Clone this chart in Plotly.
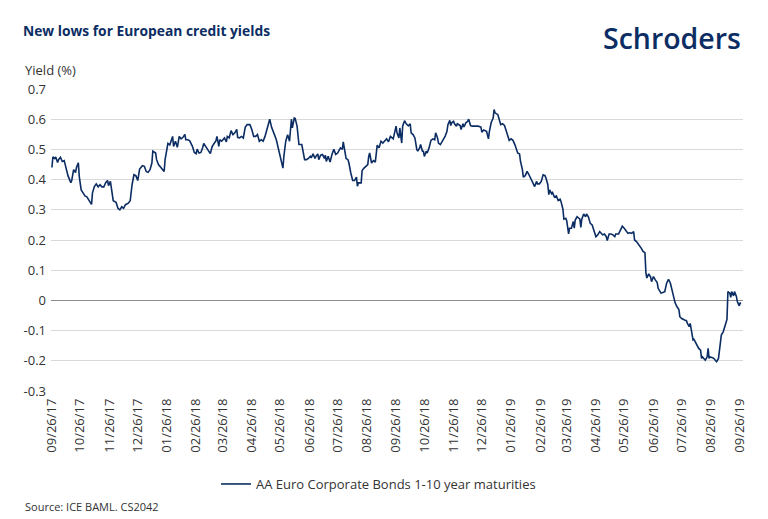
import plotly.graph_objects as go

dates = [
"2017-09-26","2017-09-27","2017-09-29","2017-09-30","2017-10-02","2017-10-03","2017-10-05","2017-10-07","2017-10-09","2017-10-11",
"2017-10-13","2017-10-16","2017-10-17","2017-10-19","2017-10-21","2017-10-22","2017-10-24","2017-10-25","2017-10-27","2017-10-29",
"2017-10-31","2017-11-02","2017-11-05","2017-11-07","2017-11-08","2017-11-10","2017-11-12","2017-11-14","2017-11-16","2017-11-18",
"2017-11-20","2017-11-22","2017-11-24","2017-11-25","2017-11-27","2017-11-28","2017-11-30","2017-12-03","2017-12-05","2017-12-07",
"2017-12-09","2017-12-11","2017-12-13","2017-12-16","2017-12-18","2017-12-20","2017-12-22","2017-12-24","2017-12-26","2017-12-28",
"2017-12-31","2018-01-02","2018-01-04","2018-01-06","2018-01-08","2018-01-10","2018-01-11","2018-01-14","2018-01-15","2018-01-17",
"2018-01-19","2018-01-21","2018-01-23","2018-01-24","2018-01-26","2018-01-27","2018-01-29","2018-01-31","2018-02-01","2018-02-02",
"2018-02-04","2018-02-06","2018-02-08","2018-02-10","2018-02-12","2018-02-14","2018-02-15","2018-02-17","2018-02-19","2018-02-22",
"2018-02-24","2018-02-26","2018-02-27","2018-03-01","2018-03-03","2018-03-05","2018-03-06","2018-03-08","2018-03-11","2018-03-13",
"2018-03-15","2018-03-17","2018-03-19","2018-03-20","2018-03-22","2018-03-23","2018-03-25","2018-03-28","2018-03-30","2018-03-31",
"2018-04-02","2018-04-04","2018-04-06","2018-04-08","2018-04-10","2018-04-11","2018-04-13","2018-04-15","2018-04-17","2018-04-19",
"2018-04-21","2018-04-24","2018-04-26","2018-04-28","2018-04-30","2018-05-02","2018-05-04","2018-05-06","2018-05-08","2018-05-10",
"2018-05-12","2018-05-14","2018-05-15","2018-05-17","2018-05-19","2018-05-20","2018-05-22","2018-05-25","2018-05-27","2018-05-29",
"2018-05-30","2018-06-01","2018-06-03","2018-06-05","2018-06-07","2018-06-08","2018-06-10","2018-06-11","2018-06-13","2018-06-14",
"2018-06-15","2018-06-18","2018-06-19","2018-06-21","2018-06-23","2018-06-25","2018-06-27","2018-06-28","2018-06-30","2018-07-02",
"2018-07-03","2018-07-05","2018-07-06","2018-07-08","2018-07-10","2018-07-12","2018-07-13","2018-07-14","2018-07-16","2018-07-18",
"2018-07-20","2018-07-22","2018-07-24","2018-07-26","2018-07-29","2018-07-31","2018-08-01","2018-08-03","2018-08-04","2018-08-06",
"2018-08-07","2018-08-09","2018-08-11","2018-08-13","2018-08-15","2018-08-16","2018-08-17","2018-08-20","2018-08-21","2018-08-23",
"2018-08-25","2018-08-27","2018-08-28","2018-08-29","2018-08-31","2018-09-02","2018-09-04","2018-09-06","2018-09-08","2018-09-10",
"2018-09-12","2018-09-14","2018-09-16","2018-09-18","2018-09-20","2018-09-23","2018-09-25","2018-09-26","2018-09-27","2018-09-29",
"2018-09-30","2018-10-02","2018-10-03","2018-10-05","2018-10-07","2018-10-09","2018-10-11","2018-10-12","2018-10-14","2018-10-16",
"2018-10-18","2018-10-19","2018-10-21","2018-10-22","2018-10-24","2018-10-25","2018-10-26","2018-10-28","2018-10-29","2018-10-31",
"2018-11-02","2018-11-04","2018-11-06","2018-11-07","2018-11-09","2018-11-10","2018-11-12","2018-11-15","2018-11-17","2018-11-19",
"2018-11-20","2018-11-22","2018-11-23","2018-11-24","2018-11-26","2018-11-27","2018-11-29","2018-11-30","2018-12-02","2018-12-03",
"2018-12-04","2018-12-06","2018-12-07","2018-12-09","2018-12-11","2018-12-12","2018-12-14","2018-12-16","2018-12-19","2018-12-22",
"2018-12-25","2018-12-26","2018-12-28","2018-12-31","2019-01-02","2019-01-03","2019-01-05","2019-01-07","2019-01-08","2019-01-09",
"2019-01-12","2019-01-13","2019-01-15","2019-01-17","2019-01-19","2019-01-21","2019-01-24","2019-01-26","2019-01-28","2019-01-30",
"2019-02-01","2019-02-02","2019-02-04","2019-02-05","2019-02-07","2019-02-08","2019-02-10","2019-02-12","2019-02-14","2019-02-16",
"2019-02-18","2019-02-20","2019-02-22","2019-02-23","2019-02-25","2019-02-27","2019-03-01","2019-03-03","2019-03-04","2019-03-06",
"2019-03-07","2019-03-08","2019-03-10","2019-03-11","2019-03-13","2019-03-15","2019-03-17","2019-03-19","2019-03-20","2019-03-22",
"2019-03-23","2019-03-25","2019-03-26","2019-03-28","2019-03-29","2019-03-31","2019-04-02","2019-04-03","2019-04-04","2019-04-06",
"2019-04-09","2019-04-10","2019-04-11","2019-04-13","2019-04-15","2019-04-16","2019-04-18","2019-04-20","2019-04-22","2019-04-24",
"2019-04-26","2019-04-28","2019-04-30","2019-05-03","2019-05-05","2019-05-07","2019-05-08","2019-05-10","2019-05-12","2019-05-14",
"2019-05-16","2019-05-17","2019-05-20","2019-05-22","2019-05-24","2019-05-26","2019-05-28","2019-05-30","2019-06-01","2019-06-03",
"2019-06-05","2019-06-06","2019-06-08","2019-06-11","2019-06-13","2019-06-15","2019-06-17","2019-06-18","2019-06-19","2019-06-21",
"2019-06-23","2019-06-24","2019-06-26","2019-06-28","2019-06-30","2019-07-01","2019-07-04","2019-07-06","2019-07-08","2019-07-10",
"2019-07-12","2019-07-14","2019-07-16","2019-07-19","2019-07-21","2019-07-23","2019-07-24","2019-07-26","2019-07-29","2019-07-31",
"2019-08-01","2019-08-03","2019-08-04","2019-08-05","2019-08-07","2019-08-08","2019-08-10","2019-08-11","2019-08-13","2019-08-15",
"2019-08-16","2019-08-17","2019-08-19","2019-08-20","2019-08-22","2019-08-23","2019-08-24","2019-08-25","2019-08-27","2019-08-29",
"2019-08-31","2019-09-01","2019-09-03","2019-09-05","2019-09-06","2019-09-08","2019-09-10","2019-09-12","2019-09-13","2019-09-15",
"2019-09-16","2019-09-17","2019-09-19","2019-09-20","2019-09-22","2019-09-23","2019-09-25","2019-09-26","2019-09-27",
]

yields = [
0.440,0.475,0.470,0.475,0.457,0.466,0.474,0.460,0.463,0.440,
0.413,0.390,0.397,0.433,0.423,0.440,0.456,0.410,0.366,0.356,
0.346,0.343,0.330,0.318,0.356,0.377,0.386,0.376,0.383,0.376,
0.376,0.390,0.397,0.380,0.394,0.366,0.330,0.325,0.305,0.300,
0.310,0.305,0.317,0.322,0.330,0.383,0.416,0.413,0.397,0.435,
0.446,0.444,0.427,0.424,0.433,0.455,0.494,0.488,0.466,0.450,
0.442,0.433,0.427,0.466,0.505,0.520,0.515,0.532,0.543,0.510,
0.527,0.507,0.543,0.535,0.540,0.550,0.532,0.532,0.529,0.510,
0.490,0.486,0.501,0.488,0.490,0.507,0.520,0.510,0.494,0.486,
0.510,0.520,0.529,0.543,0.510,0.532,0.527,0.538,0.525,0.543,
0.538,0.562,0.549,0.555,0.566,0.540,0.538,0.543,0.538,0.573,
0.582,0.582,0.566,0.543,0.543,0.549,0.527,0.532,0.527,0.543,
0.566,0.588,0.600,0.573,0.560,0.549,0.532,0.494,0.460,0.438,
0.477,0.527,0.549,0.527,0.600,0.571,0.604,0.602,0.577,0.538,
0.516,0.516,0.500,0.466,0.466,0.470,0.477,0.472,0.485,0.470,
0.477,0.485,0.466,0.481,0.483,0.470,0.481,0.460,0.477,0.458,
0.483,0.500,0.483,0.488,0.505,0.500,0.525,0.494,0.470,0.466,
0.455,0.422,0.397,0.397,0.408,0.378,0.389,0.389,0.430,0.438,
0.444,0.450,0.477,0.488,0.455,0.463,0.458,0.514,0.505,0.527,
0.521,0.529,0.535,0.525,0.543,0.535,0.566,0.577,0.555,0.538,
0.571,0.521,0.577,0.595,0.584,0.578,0.585,0.555,0.549,0.538,
0.500,0.494,0.505,0.516,0.494,0.494,0.477,0.494,0.488,0.505,
0.530,0.535,0.532,0.555,0.538,0.521,0.516,0.530,0.543,0.560,
0.582,0.596,0.579,0.588,0.593,0.585,0.577,0.585,0.582,0.579,
0.566,0.585,0.574,0.588,0.593,0.600,0.579,0.577,0.577,0.577,
0.574,0.557,0.564,0.560,0.535,0.560,0.590,0.604,0.632,0.621,
0.615,0.604,0.582,0.585,0.579,0.560,0.530,0.535,0.530,0.516,
0.494,0.488,0.485,0.460,0.433,0.408,0.413,0.427,0.416,0.402,
0.389,0.377,0.394,0.386,0.386,0.394,0.416,0.413,0.405,0.383,
0.350,0.366,0.353,0.357,0.342,0.346,0.331,0.335,0.327,0.302,
0.269,0.272,0.264,0.220,0.239,0.239,0.261,0.239,0.266,0.277,
0.269,0.242,0.269,0.286,0.277,0.286,0.277,0.255,0.250,0.233,
0.211,0.217,0.228,0.217,0.220,0.211,0.198,0.220,0.220,0.217,
0.211,0.220,0.220,0.233,0.246,0.239,0.228,0.222,0.224,0.222,
0.228,0.200,0.195,0.184,0.173,0.162,0.158,0.092,0.074,0.088,
0.077,0.062,0.079,0.068,0.059,0.040,0.024,0.026,0.029,0.057,
0.070,0.057,0.029,-0.008,-0.021,-0.030,-0.054,-0.060,-0.065,-0.067,
-0.076,-0.087,-0.076,-0.093,-0.131,-0.129,-0.142,-0.148,-0.159,-0.165,
-0.192,-0.187,-0.195,-0.198,-0.187,-0.159,-0.192,-0.187,-0.189,-0.192,
-0.200,-0.203,-0.192,-0.148,-0.115,-0.104,-0.082,-0.063,0.029,0.024,
0.010,0.029,0.015,0.029,0.013,-0.004,-0.018,-0.009,-0.009,
]

x_tick_dates = [
"2017-09-26","2017-10-26","2017-11-26","2017-12-26","2018-01-26","2018-02-26","2018-03-26",
"2018-04-26","2018-05-26","2018-06-26","2018-07-26","2018-08-26","2018-09-26","2018-10-26",
"2018-11-26","2018-12-26","2019-01-26","2019-02-26","2019-03-26","2019-04-26","2019-05-26",
"2019-06-26","2019-07-26","2019-08-26","2019-09-26",
]
x_tick_labels = [d[5:7] + "/" + d[8:10] + "/" + d[2:4] for d in x_tick_dates]

y_tick_vals = [-0.3, -0.2, -0.1, 0, 0.1, 0.2, 0.3, 0.4, 0.5, 0.6, 0.7]
y_tick_labels = ["-0.3", "-0.2", "-0.1", "0", "0.1", "0.2", "0.3", "0.4", "0.5", "0.6", "0.7"]

series_name = "AA Euro Corporate Bonds 1-10 year maturities"
navy = "#0b2d63"
text_grey = "#333333"
font_family = "Open Sans"

fig = go.Figure()
fig.add_trace(go.Scatter(
    x=dates, y=yields, mode="lines", name=series_name,
    line=dict(color=navy, width=1.6),
))

fig.update_layout(
    width=768, height=519,
    margin=dict(l=51, r=25, t=89, b=128),
    paper_bgcolor="white", plot_bgcolor="white",
    font=dict(family=font_family, size=13, color=text_grey),
    title=dict(
        text="New lows for European credit yields",
        x=23 / 768, xref="container", xanchor="left",
        y=1 - 31 / 519, yref="container", yanchor="middle",
        font=dict(family=font_family, size=13.8, color=navy, weight="bold"),
    ),
    showlegend=True,
    legend=dict(
        orientation="h", x=(216 - 51) / 692, xanchor="left", y=-0.308, yanchor="middle",
        font=dict(family=font_family, size=13, color=text_grey),
        bgcolor="rgba(0,0,0,0)",
    ),
    xaxis=dict(
        type="date",
        range=["2017-09-25", "2019-09-29"],
        tickmode="array", tickvals=x_tick_dates, ticktext=x_tick_labels,
        tickangle=-90, showgrid=False, zeroline=False, showline=False,
        ticks="", tickfont=dict(size=13, color=text_grey),
        ticklabelstandoff=4,
    ),
    yaxis=dict(
        range=[-0.3, 0.7],
        tickmode="array", tickvals=y_tick_vals, ticktext=y_tick_labels,
        showgrid=True, gridcolor="#d9d9d9", gridwidth=1,
        zeroline=True, zerolinecolor="#8c8c8c", zerolinewidth=1,
        showline=False, ticks="", tickfont=dict(size=13, color=text_grey),
        ticklabelstandoff=4,
    ),
    annotations=[
        dict(text="Yield (%)", xref="paper", yref="paper",
             x=(23 - 51) / 692, y=(391 - 70) / 302, xanchor="left", yanchor="middle",
             showarrow=False, font=dict(size=13, color=text_grey)),
        dict(text="Schroders", xref="paper", yref="paper",
             x=(743 - 51) / 692, y=(391 - 38) / 302, xanchor="right", yanchor="middle",
             showarrow=False, font=dict(size=28.5, color=navy, weight=600)),
        dict(text="Source: ICE BAML. CS2042", xref="paper", yref="paper",
             x=(23 - 51) / 692, y=(391 - 506) / 302, xanchor="left", yanchor="middle",
             showarrow=False, font=dict(size=11, color=text_grey)),
    ],
)

fig.write_html(
    "out.html",
    config={"displayModeBar": False},
    post_script="document.body.style.margin='0';",
)
